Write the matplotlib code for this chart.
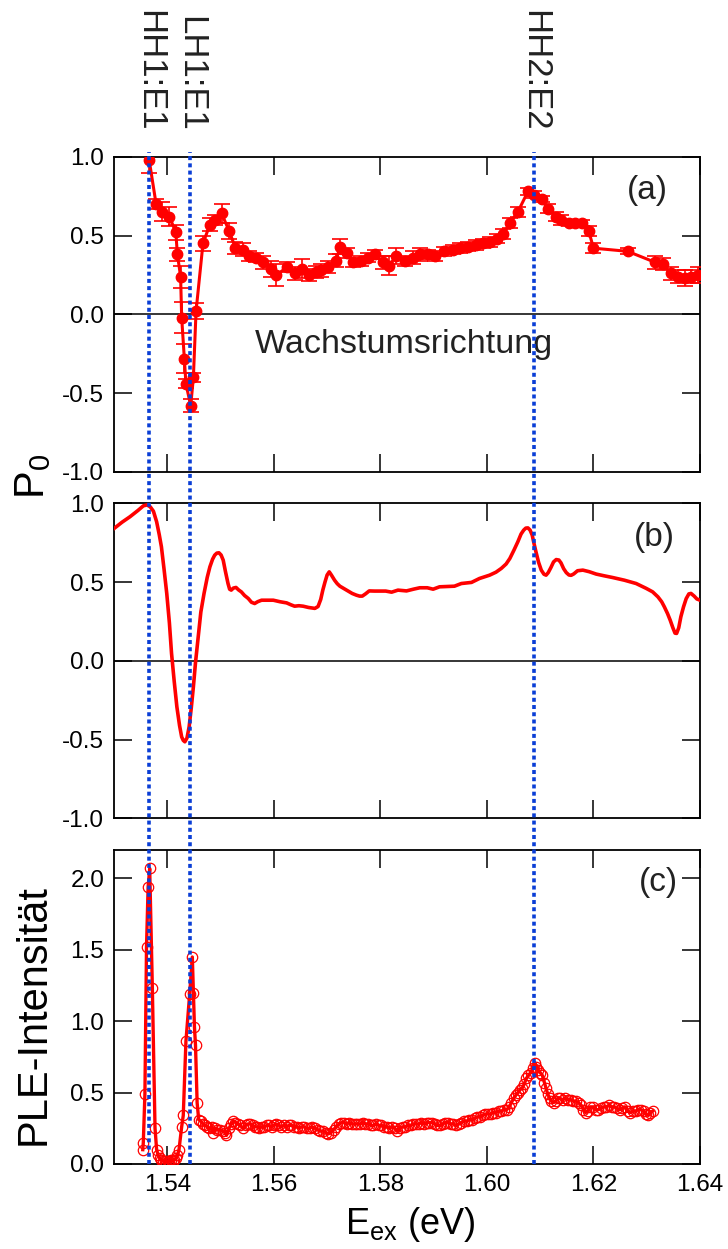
import matplotlib
matplotlib.use("Agg")
import matplotlib.pyplot as plt
import matplotlib.transforms as mtransforms

plt.rcParams['font.family'] = ['Liberation Sans', 'DejaVu Sans']
plt.rcParams['mathtext.fontset'] = 'custom'
plt.rcParams['mathtext.rm'] = 'Liberation Sans'

# transition energies (eV) marked by the dotted lines
trans_energy = [1.5366, 1.5443, 1.6089]
trans_labels = ['HH1:E1', 'LH1:E1', 'HH2:E2']

# (a) measured polarisation with error bars
pol_energy = [1.5366, 1.5379, 1.5391, 1.5404, 1.5416, 1.5419, 1.5425, 1.5427, 1.5432, 1.5435,
              1.5444, 1.5449, 1.5454, 1.5467, 1.5480, 1.5489, 1.5502, 1.5516, 1.5528, 1.5542,
              1.5553, 1.5566, 1.5580, 1.5594, 1.5605, 1.5625, 1.5639, 1.5652, 1.5666, 1.5680,
              1.5689, 1.5702, 1.5716, 1.5725, 1.5738, 1.5749, 1.5763, 1.5777, 1.5789, 1.5804,
              1.5816, 1.5830, 1.5846, 1.5861, 1.5874, 1.5889, 1.5902, 1.5919, 1.5936, 1.5950,
              1.5964, 1.5979, 1.5992, 1.6006, 1.6019, 1.6031, 1.6043, 1.6058, 1.6077, 1.6089,
              1.6103, 1.6114, 1.6129, 1.6139, 1.6154, 1.6166, 1.6179, 1.6191, 1.6200, 1.6264,
              1.6316, 1.6330, 1.6346, 1.6358, 1.6371, 1.6383, 1.6396]
pol_value = [0.98, 0.70, 0.65, 0.62, 0.52, 0.38, 0.24, -0.02, -0.28, -0.44,
             -0.58, -0.40, 0.02, 0.45, 0.57, 0.60, 0.64, 0.53, 0.42, 0.41,
             0.37, 0.36, 0.33, 0.29, 0.25, 0.30, 0.26, 0.29, 0.25, 0.27,
             0.28, 0.30, 0.34, 0.43, 0.39, 0.33, 0.34, 0.36, 0.38, 0.33,
             0.31, 0.37, 0.34, 0.36, 0.38, 0.38, 0.37, 0.40, 0.41, 0.42,
             0.43, 0.44, 0.45, 0.46, 0.48, 0.51, 0.58, 0.65, 0.78, 0.76,
             0.73, 0.67, 0.62, 0.60, 0.58, 0.58, 0.58, 0.53, 0.42, 0.40,
             0.33, 0.32, 0.26, 0.24, 0.23, 0.24, 0.25]
pol_error = [0.08, 0.03, 0.06, 0.06, 0.05, 0.04, 0.07, 0.10, 0.09, 0.03,
             0.04, 0.03, 0.05, 0.05, 0.04, 0.03, 0.06, 0.05, 0.04, 0.04,
             0.03, 0.03, 0.04, 0.05, 0.07, 0.03, 0.04, 0.06, 0.04, 0.04,
             0.04, 0.04, 0.04, 0.05, 0.03, 0.03, 0.03, 0.03, 0.03, 0.04,
             0.06, 0.05, 0.03, 0.04, 0.04, 0.03, 0.03, 0.03, 0.03, 0.03,
             0.03, 0.03, 0.03, 0.03, 0.03, 0.03, 0.03, 0.03, 0.02, 0.02,
             0.02, 0.03, 0.03, 0.03, 0.02, 0.02, 0.02, 0.03, 0.03, 0.02,
             0.04, 0.04, 0.04, 0.04, 0.05, 0.04, 0.05]

# (b) calculated polarisation
calc_energy = [1.5300, 1.5315, 1.5330, 1.5345, 1.5355, 1.5362, 1.5368, 1.5374, 1.5380, 1.5385,
               1.5389, 1.5394, 1.5399, 1.5404, 1.5408, 1.5413, 1.5418, 1.5423, 1.5427, 1.5430,
               1.5433, 1.5437, 1.5441, 1.5445, 1.5449, 1.5453, 1.5458, 1.5463, 1.5469, 1.5475,
               1.5480, 1.5485, 1.5489, 1.5493, 1.5497, 1.5501, 1.5505, 1.5509, 1.5514, 1.5517,
               1.5520, 1.5524, 1.5529, 1.5534, 1.5539, 1.5545, 1.5552, 1.5558, 1.5564, 1.5570,
               1.5577, 1.5588, 1.5599, 1.5612, 1.5624, 1.5632, 1.5639, 1.5647, 1.5655, 1.5665,
               1.5677, 1.5683, 1.5688, 1.5692, 1.5696, 1.5700, 1.5704, 1.5708, 1.5714, 1.5719,
               1.5724, 1.5731, 1.5739, 1.5747, 1.5755, 1.5761, 1.5766, 1.5772, 1.5779, 1.5789,
               1.5799, 1.5810, 1.5821, 1.5833, 1.5849, 1.5862, 1.5874, 1.5888, 1.5899, 1.5911,
               1.5925, 1.5939, 1.5952, 1.5971, 1.5986, 1.6005, 1.6017, 1.6027, 1.6036, 1.6043,
               1.6051, 1.6058, 1.6064, 1.6069, 1.6073, 1.6077, 1.6081, 1.6085, 1.6088, 1.6092,
               1.6097, 1.6102, 1.6107, 1.6111, 1.6115, 1.6120, 1.6125, 1.6130, 1.6135, 1.6139,
               1.6144, 1.6149, 1.6154, 1.6158, 1.6163, 1.6170, 1.6180, 1.6192, 1.6205, 1.6220,
               1.6236, 1.6258, 1.6280, 1.6299, 1.6311, 1.6321, 1.6328, 1.6333, 1.6339, 1.6344,
               1.6349, 1.6353, 1.6356, 1.6360, 1.6364, 1.6369, 1.6374, 1.6379, 1.6383, 1.6389,
               1.6394, 1.6400]
calc_value = [0.840, 0.880, 0.915, 0.955, 0.984, 0.990, 0.978, 0.950, 0.883, 0.800,
              0.724, 0.580, 0.428, 0.240, 0.047, -0.130, -0.292, -0.410, -0.483, -0.505,
              -0.514, -0.490, -0.419, -0.300, -0.165, -0.010, 0.152, 0.310, 0.428, 0.530,
              0.597, 0.645, 0.671, 0.684, 0.686, 0.672, 0.639, 0.570, 0.491, 0.455,
              0.449, 0.462, 0.466, 0.450, 0.438, 0.415, 0.396, 0.372, 0.364, 0.376,
              0.385, 0.385, 0.385, 0.375, 0.368, 0.356, 0.347, 0.350, 0.347, 0.339,
              0.333, 0.345, 0.390, 0.450, 0.500, 0.545, 0.565, 0.545, 0.512, 0.490,
              0.474, 0.460, 0.444, 0.428, 0.417, 0.411, 0.411, 0.425, 0.444, 0.443,
              0.443, 0.443, 0.436, 0.449, 0.444, 0.455, 0.464, 0.464, 0.455, 0.470,
              0.472, 0.474, 0.491, 0.498, 0.523, 0.544, 0.563, 0.587, 0.615, 0.650,
              0.705, 0.756, 0.805, 0.830, 0.843, 0.844, 0.830, 0.798, 0.750, 0.692,
              0.625, 0.576, 0.550, 0.544, 0.560, 0.592, 0.628, 0.643, 0.640, 0.622,
              0.585, 0.560, 0.545, 0.543, 0.552, 0.572, 0.576, 0.566, 0.551, 0.540,
              0.529, 0.512, 0.491, 0.460, 0.438, 0.406, 0.375, 0.343, 0.300, 0.258,
              0.210, 0.176, 0.174, 0.210, 0.280, 0.343, 0.395, 0.425, 0.428, 0.411,
              0.393, 0.385]

# (c) PLE intensity
ple_energy = [1.5354, 1.5355, 1.5358, 1.5361, 1.5364, 1.5367, 1.5372, 1.5377, 1.5380, 1.5383,
              1.5386, 1.5389, 1.5392, 1.5395, 1.5398, 1.5401, 1.5404, 1.5407, 1.5410, 1.5413,
              1.5416, 1.5419, 1.5422, 1.5427, 1.5430, 1.5435, 1.5442, 1.5447, 1.5449, 1.5451,
              1.5453, 1.5456, 1.5459, 1.5463, 1.5467, 1.5471, 1.5475, 1.5479, 1.5483, 1.5486,
              1.5490, 1.5494, 1.5499, 1.5504, 1.5508, 1.5511, 1.5516, 1.5520, 1.5524, 1.5528,
              1.5533, 1.5537, 1.5542, 1.5547, 1.5551, 1.5555, 1.5560, 1.5564, 1.5568, 1.5573,
              1.5577, 1.5582, 1.5587, 1.5591, 1.5596, 1.5600, 1.5605, 1.5610, 1.5614, 1.5619,
              1.5624, 1.5628, 1.5633, 1.5638, 1.5643, 1.5648, 1.5652, 1.5657, 1.5662, 1.5667,
              1.5672, 1.5677, 1.5682, 1.5687, 1.5692, 1.5697, 1.5702, 1.5707, 1.5712, 1.5717,
              1.5722, 1.5727, 1.5732, 1.5737, 1.5742, 1.5747, 1.5752, 1.5757, 1.5762, 1.5767,
              1.5772, 1.5777, 1.5782, 1.5787, 1.5792, 1.5797, 1.5802, 1.5807, 1.5812, 1.5817,
              1.5822, 1.5827, 1.5832, 1.5837, 1.5842, 1.5847, 1.5852, 1.5857, 1.5862, 1.5867,
              1.5872, 1.5877, 1.5882, 1.5887, 1.5892, 1.5897, 1.5902, 1.5907, 1.5912, 1.5917,
              1.5922, 1.5927, 1.5932, 1.5937, 1.5942, 1.5947, 1.5952, 1.5957, 1.5962, 1.5967,
              1.5972, 1.5977, 1.5982, 1.5987, 1.5992, 1.5997, 1.6002, 1.6007, 1.6012, 1.6017,
              1.6022, 1.6027, 1.6032, 1.6037, 1.6042, 1.6046, 1.6050, 1.6054, 1.6058, 1.6062,
              1.6066, 1.6070, 1.6074, 1.6078, 1.6082, 1.6086, 1.6090, 1.6093, 1.6096, 1.6100,
              1.6104, 1.6108, 1.6111, 1.6114, 1.6118, 1.6121, 1.6125, 1.6129, 1.6133, 1.6137,
              1.6142, 1.6147, 1.6152, 1.6157, 1.6162, 1.6167, 1.6172, 1.6177, 1.6181, 1.6185,
              1.6189, 1.6194, 1.6199, 1.6204, 1.6209, 1.6214, 1.6219, 1.6224, 1.6229, 1.6234,
              1.6239, 1.6244, 1.6249, 1.6254, 1.6259, 1.6264, 1.6269, 1.6274, 1.6279, 1.6284,
              1.6289, 1.6294, 1.6299, 1.6303, 1.6307, 1.6311]
ple_value = [0.10, 0.15, 0.49, 1.52, 1.94, 2.07, 1.23, 0.25, 0.10, 0.06,
             0.04, 0.03, 0.02, 0.02, 0.01, 0.02, 0.02, 0.03, 0.02, 0.03,
             0.04, 0.06, 0.10, 0.26, 0.34, 0.86, 1.19, 1.45, 1.20, 0.96,
             0.83, 0.43, 0.31, 0.30, 0.28, 0.27, 0.26, 0.25, 0.26, 0.22,
             0.25, 0.24, 0.24, 0.23, 0.22, 0.20, 0.25, 0.28, 0.30, 0.29,
             0.28, 0.27, 0.25, 0.27, 0.28, 0.28, 0.27, 0.26, 0.26, 0.25,
             0.26, 0.26, 0.27, 0.27, 0.26, 0.27, 0.28, 0.27, 0.26, 0.27,
             0.26, 0.27, 0.27, 0.26, 0.26, 0.25, 0.26, 0.26, 0.25, 0.25,
             0.26, 0.25, 0.24, 0.23, 0.23, 0.22, 0.21, 0.22, 0.24, 0.26,
             0.28, 0.29, 0.29, 0.28, 0.29, 0.28, 0.28, 0.28, 0.28, 0.29,
             0.28, 0.28, 0.27, 0.27, 0.28, 0.27, 0.27, 0.26, 0.26, 0.25,
             0.26, 0.25, 0.23, 0.25, 0.26, 0.26, 0.27, 0.27, 0.28, 0.28,
             0.28, 0.29, 0.28, 0.29, 0.29, 0.29, 0.28, 0.27, 0.27, 0.28,
             0.29, 0.29, 0.28, 0.28, 0.27, 0.28, 0.29, 0.30, 0.30, 0.31,
             0.31, 0.32, 0.33, 0.33, 0.34, 0.35, 0.35, 0.35, 0.36, 0.36,
             0.37, 0.37, 0.38, 0.38, 0.40, 0.43, 0.46, 0.48, 0.50, 0.52,
             0.53, 0.56, 0.60, 0.62, 0.64, 0.67, 0.71, 0.68, 0.66, 0.64,
             0.62, 0.57, 0.53, 0.49, 0.46, 0.44, 0.43, 0.44, 0.46, 0.46,
             0.45, 0.46, 0.45, 0.45, 0.44, 0.44, 0.43, 0.41, 0.38, 0.36,
             0.37, 0.40, 0.40, 0.38, 0.38, 0.39, 0.40, 0.40, 0.41, 0.40,
             0.40, 0.39, 0.38, 0.39, 0.40, 0.37, 0.36, 0.37, 0.37, 0.38,
             0.38, 0.37, 0.35, 0.34, 0.36, 0.37]

red = '#ff0000'
blue = '#0a3ed6'

fig = plt.figure(figsize=(7.28, 12.49), dpi=100)

left, width = 0.1566, 0.805
ax_a = fig.add_axes([left, 0.6221, width, 0.2524])
ax_b = fig.add_axes([left, 0.3448, width, 0.2522])
ax_c = fig.add_axes([left, 0.0681, width, 0.2514])


def style_axis(ax, show_xlabels):
    ax.set_xlim(1.53, 1.64)
    ax.set_xticks([1.54, 1.56, 1.58, 1.60, 1.62, 1.64])
    ax.tick_params(direction='in', length=13, width=1.1, top=True, right=True,
                   labelsize=17.5, pad=7, labelbottom=show_xlabels)
    for sp in ax.spines.values():
        sp.set_linewidth(1.3)


# (a)
ax_a.errorbar(pol_energy, pol_value, yerr=pol_error, color=red, lw=2.2, marker='o', ms=7.5,
              ecolor=red, elinewidth=1.2, capsize=5.5, capthick=1.2, zorder=3)
ax_a.axhline(0, color='black', lw=1.1, zorder=1)
ax_a.set_ylim(-1.0, 1.0)
ax_a.set_yticks([-1.0, -0.5, 0.0, 0.5, 1.0])
ax_a.set_yticklabels(['-1.0', '-0.5', '0.0', '0.5', '1.0'])
style_axis(ax_a, False)
ax_a.text(1.5564, -0.247, 'Wachstumsrichtung', fontsize=24.5, color='#222222', va='baseline')
ax_a.text(0.910, 0.894, '(a)', transform=ax_a.transAxes, fontsize=24, color='#222222',
          ha='center', va='center')

# (b)
ax_b.plot(calc_energy, calc_value, color=red, lw=2.6, zorder=3)
ax_b.axhline(0, color='black', lw=1.1, zorder=1)
ax_b.set_ylim(-1.0, 1.0)
ax_b.set_yticks([-1.0, -0.5, 0.0, 0.5, 1.0])
ax_b.set_yticklabels(['-1.0', '-0.5', '0.0', '0.5', '1.0'])
style_axis(ax_b, False)
ax_b.text(0.922, 0.893, '(b)', transform=ax_b.transAxes, fontsize=24, color='#222222',
          ha='center', va='center')

# (c)
ax_c.plot(ple_energy, ple_value, color=red, lw=2.4, marker='o', ms=7.5, mfc='none',
          mec=red, mew=0.9, zorder=3)
ax_c.set_ylim(0, 2.2)
ax_c.set_yticks([0.0, 0.5, 1.0, 1.5, 2.0])
ax_c.set_yticklabels(['0.0', '0.5', '1.0', '1.5', '2.0'])
style_axis(ax_c, True)
ax_c.text(0.929, 0.896, '(c)', transform=ax_c.transAxes, fontsize=24, color='#222222',
          ha='center', va='center')

# axis titles
fig.text(0.046, 1 - 476 / 1249, r'P$_\mathregular{0}$', fontsize=30, rotation=90,
         ha='center', va='center')
fig.text(0.046, 1 - 1015 / 1249, 'PLE-Intensität', fontsize=30, rotation=90,
         ha='center', va='center')
fig.text(410 / 728, 1 - 1234 / 1249, r'E$_\mathregular{ex}$ (eV)', fontsize=26,
         ha='center', va='baseline')

# dotted transition lines running through all three panels
ax_ov = fig.add_axes([left, 0.0681, width, (1 - 152 / 1249) - 0.0681])
ax_ov.set_xlim(1.53, 1.64)
ax_ov.set_ylim(0, 1)
ax_ov.axis('off')
for e in trans_energy:
    ax_ov.axvline(e, color=blue, lw=2.6, linestyle=(0, (1.1, 0.9)))

label_tr = mtransforms.blended_transform_factory(ax_ov.transData, fig.transFigure)
for e, lab in zip(trans_energy, trans_labels):
    fig.text(e, 1 - 132 / 1249, lab, transform=label_tr, fontsize=25, rotation=270,
             ha='center', va='bottom', color='#222222')

fig.savefig('out.png', dpi=100)
